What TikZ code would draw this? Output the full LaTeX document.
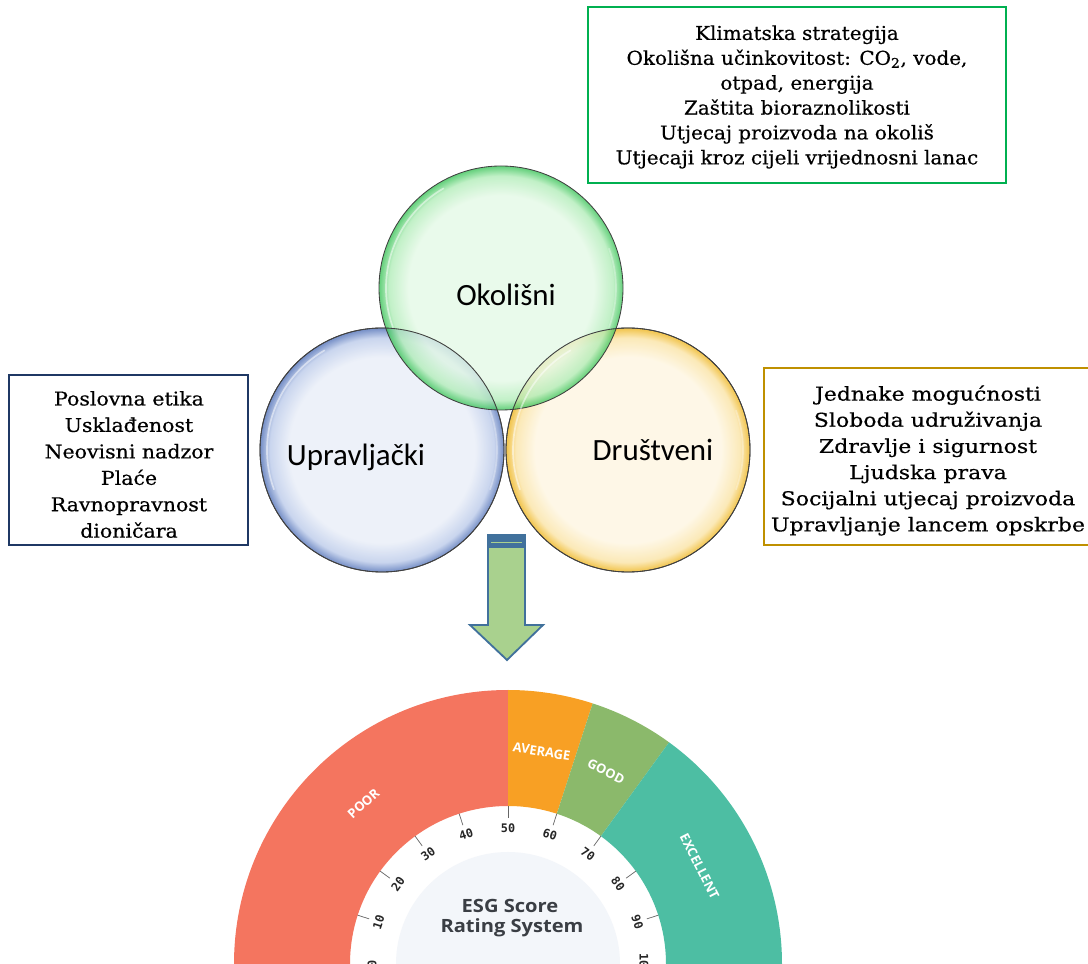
\documentclass[tikz,border=0pt]{standalone}
\usepackage{fontspec}
\setmainfont{DejaVu Serif}
\newfontfamily\boxfontT{DejaVu Serif}[FakeStretch=1.05, FakeBold=0.5]
\newfontfamily\boxfontL{DejaVu Serif}[FakeStretch=1.08, FakeBold=0.5]
\newfontfamily\boxfontR{DejaVu Serif}[FakeStretch=1.16, FakeBold=0.5]
\newfontfamily\venfont{Carlito}
\newfontfamily\esgfont{Open Sans}[FakeStretch=1.1]
\newfontfamily\bandfont{Open Sans}
\newfontfamily\tickfont{DejaVu Sans Mono}
\newcommand\mypx{0.025cm}
\definecolor{gIn}{HTML}{E4F9E6}
\definecolor{gMid}{HTML}{B2EDB9}
\definecolor{gRim}{HTML}{3CC45A}
\definecolor{bIn}{HTML}{E9EEF8}
\definecolor{bMid}{HTML}{BCCBEA}
\definecolor{bRim}{HTML}{5272B8}
\definecolor{yIn}{HTML}{FEF6E2}
\definecolor{yMid}{HTML}{FBE4A6}
\definecolor{yRim}{HTML}{EEB51E}
\definecolor{boxGreen}{HTML}{00B050}
\definecolor{boxNavy}{HTML}{1F3864}
\definecolor{boxGold}{HTML}{BF9000}
\definecolor{arrBlue}{HTML}{41719C}
\definecolor{arrGreen}{HTML}{A9D18E}
\definecolor{cPoor}{HTML}{F4755F}
\definecolor{cAvg}{HTML}{F8A024}
\definecolor{cGood}{HTML}{8BB96B}
\definecolor{cExc}{HTML}{4DBEA3}
\definecolor{cCenter}{HTML}{F3F6FA}
\definecolor{esgText}{HTML}{3A3E44}
\pgfdeclareradialshading{bubG}{\pgfpoint{0bp}{0bp}}{color(0bp)=(gIn); color(19bp)=(gIn); color(23bp)=(gMid); color(25bp)=(gRim); color(50bp)=(gRim)}
\pgfdeclareradialshading{bubB}{\pgfpoint{0bp}{0bp}}{color(0bp)=(bIn); color(19bp)=(bIn); color(23bp)=(bMid); color(25bp)=(bRim); color(50bp)=(bRim)}
\pgfdeclareradialshading{bubY}{\pgfpoint{0bp}{0bp}}{color(0bp)=(yIn); color(19bp)=(yIn); color(23bp)=(yMid); color(25bp)=(yRim); color(50bp)=(yRim)}
\tikzset{
  bubble/.style={circle, minimum size=244*\mypx, inner sep=0pt, shade, fill opacity=0.8, draw=black!75, draw opacity=1, line width=0.6pt},
  venlabel/.style={font=\venfont\fontsize{22}{26}\selectfont, text=black, inner sep=0pt},
  frame/.style={draw, line width=1.3pt, inner sep=0pt},
  listtext/.style={align=center, inner sep=0pt, text=black},
  gloss/.style={white, opacity=0.5, line width=1.2pt, line cap=round},
  tickline/.style={draw=black!60, line width=0.5pt},
  ticklab/.style={font=\tickfont\bfseries\fontsize{8.4}{9}\selectfont, text=black!85, inner sep=0pt},
  bandlab/.style={font=\bandfont\bfseries\fontsize{9.2}{10}\selectfont, text=white, inner sep=0pt},
  esglab/.style={font=\esgfont\bfseries\fontsize{13}{15}\selectfont, text=esgText, inner sep=0pt}
}
\begin{document}
\begin{tikzpicture}[x=0.025cm,y=0.025cm]
\useasboundingbox (0,0) rectangle (1088,963);
\clip (0,0) rectangle (1088,963);
\fill[white] (0,0) rectangle (1088,963);

% ---- Venn bubbles ----
\node[bubble, shading=bubB] (cB) at (382,513) {};
\node[bubble, shading=bubY] (cY) at (628,513) {};
\node[bubble, shading=bubG] (cG) at (501,675) {};
\foreach \c in {cB,cY,cG}{
  \draw[gloss] (\c.center) ++(120:115) arc[start angle=120, end angle=200, radius=115];
  \draw[gloss, opacity=0.3] (\c.center) ++(-20:115) arc[start angle=-20, end angle=20, radius=115];
}
\draw[black!75, line width=0.6pt] (cB) circle (122);
\draw[black!75, line width=0.6pt] (cY) circle (122);

\node[venlabel] (lG) at (506,668) {Okolišni};
\node[venlabel] (lB) at (356,506) {Upravljački};
\node[venlabel] (lY) at (653,513) {Društveni};

% ---- text boxes ----
\node[frame, draw=boxGreen, minimum width=418*\mypx, minimum height=176*\mypx] (boxE) at (797,868) {};
\node[listtext, font=\boxfontT\fontsize{13.5}{17.7}\selectfont] (txtE) at (797,866)
 {Klimatska strategija\\
  Okolišna učinkovitost: CO\textsubscript{2}, vode,\\
  otpad, energija\\
  Zaštita bioraznolikosti\\
  Utjecaj proizvoda na okoliš\\
  Utjecaji kroz cijeli vrijednosni lanac};

\node[frame, draw=boxNavy, line width=1.1pt, minimum width=239*\mypx, minimum height=170*\mypx] (boxG) at (128.5,503) {};
\node[listtext, font=\boxfontL\fontsize{13.5}{18.8}\selectfont] (txtG) at (129,498.5)
 {Poslovna etika\\ Usklađenost\\ Neovisni nadzor\\ Plaće\\ Ravnopravnost\\ dioničara};

\node[frame, draw=boxGold, minimum width=346*\mypx, minimum height=177*\mypx] (boxS) at (937,506.5) {};
\node[listtext, font=\boxfontR\fontsize{13.5}{18.6}\selectfont] (txtS) at (928,502.5)
 {Jednake mogućnosti\\ Sloboda udruživanja\\ Zdravlje i sigurnost\\ Ljudska prava\\ Socijalni utjecaj proizvoda\\ Upravljanje lancem opskrbe};

% ---- arrow ----
\draw[arrBlue, fill=arrGreen, line width=1.3pt, line join=miter]
  (488,428) -- (525,428) -- (525,338) -- (543,338) -- (507,303) -- (470,338) -- (488,338) -- cycle;
\fill[arrBlue] (487.5,428.5) rectangle (525.5,415);
\draw[arrGreen, line width=0.9pt] (491,420.5) -- (522,420.5);

% ---- gauge ----
\begin{scope}[shift={(508,-1)}]
  \fill[cPoor] (180:274) arc[start angle=180, end angle=90, radius=274] -- (90:158) arc[start angle=90, end angle=180, radius=158] -- cycle;
  \fill[cAvg] (90:274) arc[start angle=90, end angle=72, radius=274] -- (72:158) arc[start angle=72, end angle=90, radius=158] -- cycle;
  \fill[cGood] (72:274) arc[start angle=72, end angle=54, radius=274] -- (54:158) arc[start angle=54, end angle=72, radius=158] -- cycle;
  \fill[cExc] (54:274) arc[start angle=54, end angle=0, radius=274] -- (0:158) arc[start angle=0, end angle=54, radius=158] -- cycle;
  \fill[cCenter] (0,0) circle (112);
  \foreach \v in {0,10,...,100}{
    \pgfmathsetmacro\a{180-1.8*\v}
    \draw[tickline] (\a:146) -- (\a:158);
    \node[ticklab, rotate=\a-90] (tk\v) at (\a:136) {\v};
  }
  \node[bandlab, rotate=42] (bPoor) at (132:216) {POOR};
  \node[bandlab, rotate=-9] (bAvg) at (81:215) {AVERAGE};
  \node[bandlab, rotate=-27] (bGood) at (63:216) {GOOD};
  \node[bandlab, rotate=-63] (bExc) at (27:215) {EXCELLENT};
\end{scope}
\node[esglab] (esg1) at (510,57) {ESG Score};
\node[esglab] (esg2) at (512,35) {Rating System};
\end{tikzpicture}
\end{document}
